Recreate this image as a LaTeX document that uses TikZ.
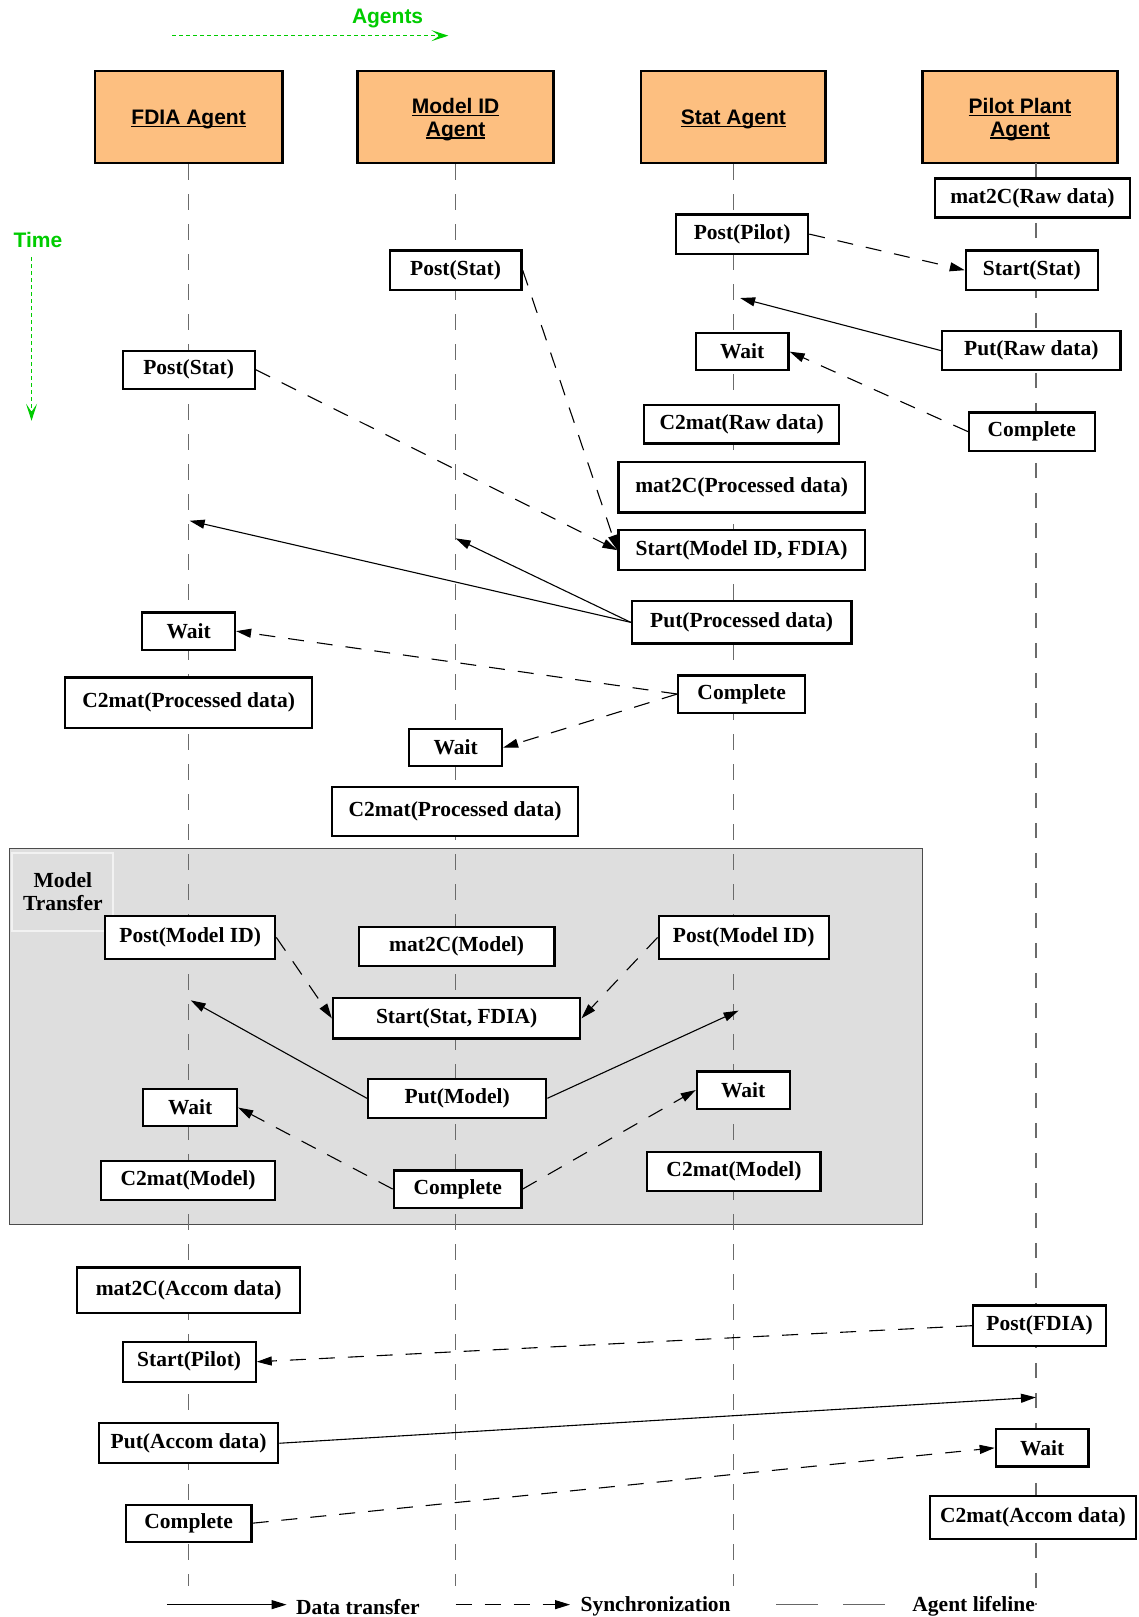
\documentclass[tikz,border=0pt]{standalone}
\usepackage{fontspec}
\setmainfont{Liberation Serif}
\newfontfamily\hdfont{Liberation Sans}
\usetikzlibrary{arrows.meta}
\definecolor{hdr}{RGB}{253,191,128}
\definecolor{grn}{RGB}{0,204,0}
\definecolor{mtgray}{RGB}{222,222,222}
\newsavebox\ulbox
\newcommand\ulx[1]{\sbox\ulbox{#1}\rlap{\smash{\rule[-2.3pt]{\wd\ulbox}{1.3pt}}}\usebox\ulbox}
\newcommand\hdt[1]{\raisebox{-2.7pt}[\height][\depth]{\ulx{#1}}}
\newcommand\bx[7][box]{%
  \pgfmathsetmacro\bxw{(#5-#3)*1.0308}%
  \pgfmathsetmacro\bxh{(#6-#4)*1.03125}%
  \node[#1, minimum width=\bxw pt, minimum height=\bxh pt] (#2) at ({(#3+#5)/2},{(#4+#6)/2}) {#7};}
\begin{document}
\begin{tikzpicture}[x=1.0308pt, y=-1.03125pt,
  box/.style={draw, line width=2.2pt, fill=white, inner sep=0pt, font=\bfseries\fontsize{21.5}{23}\selectfont},
  hbox/.style={draw, line width=2.6pt, fill=hdr, inner sep=0pt, align=center, font=\hdfont\bfseries\fontsize{21}{22.7}\selectfont},
  life/.style={draw=black!58, line width=1.5pt, dash pattern=on 15.5pt off 14.5pt},
  sync/.style={-{Triangle[length=15pt,width=9pt]}, line width=1.1pt, dash pattern=on 16pt off 13pt},
  data/.style={-{Triangle[length=15pt,width=9pt]}, line width=1.1pt},
  lbl/.style={anchor=west, inner sep=0pt, font=\bfseries\fontsize{21.5}{23}\selectfont},
  green/.style={draw=grn, line width=1.2pt, dash pattern=on 4pt off 3pt, -{Stealth[length=17pt,width=11pt,inset=8pt]}},
]
\useasboundingbox (0,0) rectangle (1104,1568);

% Model Transfer frame
\draw[fill=mtgray, draw=black!70, line width=1.2pt] (9,823) rectangle (895,1187);
\draw[draw=black!5, line width=2pt] (12,827) rectangle (110,903);
\node[align=center, inner sep=0pt, font=\bfseries\fontsize{21.5}{23}\selectfont] (mtl) at (61,865) {Model\\Transfer};

% headers
\bx[hbox]{hF}{92}{69}{274}{158}{\hdt{FDIA Agent}}
\bx[hbox]{hM}{347}{69}{537}{158}{\hdt{Model ID}\\\hdt{Agent}}
\bx[hbox]{hS}{622}{69}{801}{158}{\hdt{Stat Agent}}
\bx[hbox]{hP}{895}{69}{1084}{158}{\hdt{Pilot Plant}\\\hdt{Agent}}

% lifelines
\coordinate (lF) at (183,1538);
\coordinate (lM) at (442,1538);
\coordinate (lS) at (711.5,1538);
\coordinate (lPt) at (1005,158);
\coordinate (lPb) at (1005,1556);
\draw[life] (hF.south) -- (lF);
\draw[life] (hM.south) -- (lM);
\draw[life] (hS.south) -- (lS);
\draw[life] (lPt) -- (lPb);

% Pilot column
\bx{p1}{907}{173}{1096}{211}{mat2C(Raw data)}
\bx{p2}{937}{243}{1065}{281}{Start(Stat)}
\bx{p3}{914}{321}{1087}{359}{Put(Raw data)}
\bx{p4}{940}{400}{1062}{437}{Complete}
% Stat column
\bx{s1}{656}{208}{784}{246}{Post(Pilot)}
\bx{s2}{675}{323}{765}{359}{Wait}
\bx{s3}{625}{393}{814}{430}{C2mat(Raw data)}
\bx{s4}{600}{448}{839}{497}{mat2C(Processed data)}
\bx{s5}{600}{514}{839}{553}{Start(Model ID, FDIA)}
\bx{s6}{613}{583}{826}{624}{Put(Processed data)}
\bx{s7}{658}{655}{781}{691}{Complete}
% Model ID column
\bx{m1}{378}{243}{506}{281}{Post(Stat)}
\bx{m2}{397}{707}{487}{743}{Wait}
\bx{m3}{322}{763}{561}{811}{C2mat(Processed data)}
% FDIA column
\bx{f1}{119}{340}{247}{377}{Post(Stat)}
\bx{f2}{138}{594}{228}{630}{Wait}
\bx{f3}{63}{657}{303}{706}{C2mat(Processed data)}
% Model transfer
\bx{t1}{102}{888}{267}{930}{Post(Model ID)}
\bx{t2}{348}{899}{538}{937}{mat2C(Model)}
\bx{t3}{323}{968}{563}{1007}{Start(Stat, FDIA)}
\bx{t4}{357}{1046}{530}{1084}{Put(Model)}
\bx{t5}{139}{1056}{230}{1092}{Wait}
\bx{t6}{98}{1126}{267}{1164}{C2mat(Model)}
\bx{t7}{382}{1135}{506}{1171}{Complete}
\bx{t8}{639}{888}{804}{930}{Post(Model ID)}
\bx{t9}{676}{1039}{766}{1075}{Wait}
\bx{t10}{628}{1117}{796}{1155}{C2mat(Model)}
% bottom
\bx{b1}{75}{1229}{291}{1273}{mat2C(Accom data)}
\bx{b2}{119}{1301}{248}{1340}{Start(Pilot)}
\bx{b3}{96}{1380}{270}{1419}{Put(Accom data)}
\bx{b4}{122}{1459}{244}{1495}{Complete}
\bx{b5}{944}{1266}{1073}{1305}{Post(FDIA)}
\bx{b6}{966}{1386}{1056}{1422}{Wait}
\bx{b7}{902}{1451}{1102}{1492}{C2mat(Accom data)}

% lifeline target points
\coordinate (cS1) at (718,289);
\coordinate (cF1) at (184,505);
\coordinate (cM1) at (442,522);
\coordinate (cF2) at (185,970);
\coordinate (cS2) at (716.5,980);
\coordinate (cP1) at (1005,1355);

% connectors
\draw[sync] (s1.east) -- (p2.west);
\draw[data] (p3.west) -- (cS1);
\draw[sync] (p4.west) -- (s2.east);
\draw[sync] (m1.east) -- (s5.west);
\draw[sync] (f1.east) -- (s5.west);
\draw[data] (s6.west) -- (cF1);
\draw[data] (s6.west) -- (cM1);
\draw[sync] (s7.west) -- (f2.east);
\draw[sync] (s7.west) -- (m2.east);
\draw[sync] (t1.east) -- (t3.west);
\draw[sync] (t8.west) -- (t3.east);
\draw[data] (t4.west) -- (cF2);
\draw[data] (t4.east) -- (cS2);
\draw[sync] (t7.west) -- (t5.east);
\draw[sync] (t7.east) -- (t9.west);
\draw[sync] (b5.west) -- (b2.east);
\draw[data] (b3.east) -- (cP1);
\draw[sync] (b4.east) -- (b6.west);

% legend
\coordinate (lg1) at (162,1556);
\coordinate (lg2) at (278,1556);
\coordinate (lg3) at (442,1556);
\coordinate (lg4) at (553,1556);
\coordinate (lg5) at (753,1556);
\coordinate (lg6) at (862,1556);
\draw[data] (lg1) -- (lg2);
\node[lbl] (lt1) at (287,1558) {Data transfer};
\draw[sync] (lg3) -- (lg4);
\node[lbl] (lt2) at (563,1558) {Synchronization};
\draw[draw=black!60, line width=1.5pt, dash pattern=on 42pt off 25pt] (lg5) -- (lg6);
\node[lbl] (lt3) at (885,1558) {Agent lifeline};

% green axes
\node[text=grn, inner sep=0pt, font=\hdfont\bfseries\fontsize{21}{22}\selectfont] (agt) at (376,17.7) {Agents};
\coordinate (ag1) at (167,34.6);
\coordinate (ag2) at (435,34.6);
\draw[green] (ag1) -- (ag2);
\node[text=grn, inner sep=0pt, font=\hdfont\bfseries\fontsize{21}{22}\selectfont] (tim) at (36.8,232.7) {Time};
\coordinate (tm1) at (30.6,249.5);
\coordinate (tm2) at (30.6,408);
\draw[green] (tm1) -- (tm2);
\end{tikzpicture}
\end{document}
